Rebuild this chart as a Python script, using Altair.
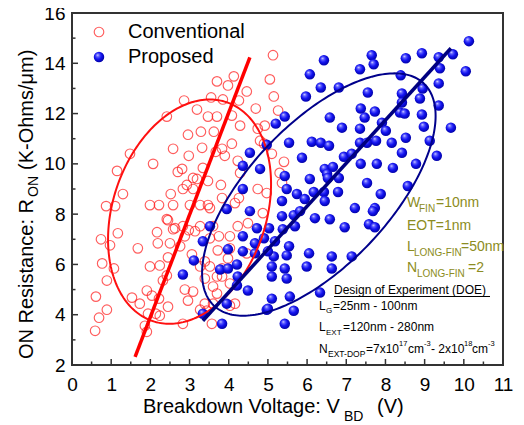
import altair as alt
import pandas as pd
import numpy as np

# ---------------- data ----------------
conv_x = [4.13, 3.70, 3.98, 4.46, 2.86, 3.55, 3.85, 4.26, 3.19, 2.42, 3.47, 3.70, 4.08, 4.69, 4.29,
          3.29, 2.96, 3.62, 4.08, 2.58, 3.32, 3.67, 1.48, 2.07, 2.98, 3.90, 4.23, 3.34, 2.70, 1.15,
          3.19, 4.29, 2.93, 3.47, 3.80, 1.30, 2.52, 3.83, 4.26, 0.87, 1.10, 1.99, 2.22, 2.58, 3.01,
          3.27, 3.47, 4.16, 0.74, 1.17, 0.97, 0.77, 1.07, 0.89, 0.61, 0.89, 0.69, 0.59, 1.68, 1.53,
          1.73, 1.86, 1.91, 1.94, 1.91, 2.04, 2.14, 2.24, 1.99, 2.24, 2.32, 2.42, 2.45, 2.22, 2.17,
          2.19, 2.45, 2.50, 2.63, 2.83, 2.76, 2.88, 2.83, 2.96, 3.09, 2.98, 3.27, 3.60, 3.75, 4.03,
          3.57, 3.44, 3.60, 3.70, 3.39, 3.52, 3.27, 3.83, 4.03, 4.23, 4.49, 4.03, 4.46, 3.72, 2.42,
          2.58, 2.45, 2.83, 3.09, 3.52, 4.74, 4.87, 3.14, 3.52, 3.06, 3.39, 3.83, 3.98, 3.70, 4.03,
          2.88, 3.60, 3.39, 4.16, 3.27, 5.13, 5.05, 5.15, 5.26, 4.92, 4.90, 5.10, 5.41, 5.30, 5.36,
          4.97, 4.74, 4.80, 3.83, 2.81, 3.09]
conv_y = [13.48, 13.28, 13.12, 12.88, 12.52, 12.64, 12.56, 12.52, 12.16, 11.88, 11.88, 11.88, 11.92, 12.20, 11.52,
          11.28, 11.16, 11.28, 10.80, 10.60, 10.64, 10.48, 10.40, 10.00, 10.32, 10.32, 10.12, 9.84, 9.68, 9.72,
          9.40, 9.64, 9.16, 9.32, 9.16, 8.80, 8.80, 8.64, 8.64, 8.32, 8.32, 8.36, 8.36, 8.36, 8.36,
          8.36, 8.36, 8.44, 7.00, 7.24, 6.76, 6.04, 5.84, 5.36, 4.72, 4.20, 3.88, 3.36, 6.64, 4.68,
          4.44, 3.56, 3.32, 4.04, 4.96, 4.76, 4.04, 3.96, 5.92, 5.96, 5.36, 5.56, 4.32, 4.64, 7.28,
          6.84, 7.76, 6.84, 7.44, 7.52, 6.72, 7.12, 3.64, 4.56, 4.92, 7.36, 7.52, 7.52, 7.12, 7.12,
          3.64, 4.16, 4.44, 4.84, 5.44, 5.92, 5.92, 5.52, 4.36, 7.52, 7.64, 6.64, 6.44, 6.56, 7.80,
          7.40, 6.28, 9.00, 9.00, 8.24, 9.00, 8.04, 7.32, 7.04, 6.40, 6.12, 5.84, 6.24, 5.52, 5.24,
          5.00, 5.12, 4.44, 4.44, 4.20, 14.32, 13.36, 12.68, 12.12, 11.52, 10.80, 10.40, 10.08, 9.64, 9.24,
          8.84, 11.40, 10.92, 10.60, 9.80, 9.44]

prop_x = [10.13, 7.65, 7.70, 6.43, 8.52, 8.93, 9.36, 9.72, 9.39, 10.05, 7.35, 6.07, 8.39, 6.35, 6.81,
          5.97, 7.55, 8.42, 8.95, 9.36, 8.88, 9.36, 7.37, 7.47, 7.73, 8.37, 8.49, 8.42, 8.93, 8.98,
          6.58, 5.43, 5.20, 6.89, 7.35, 7.91, 8.01, 9.67, 5.54, 6.12, 6.35, 6.56, 7.35, 7.53, 7.76,
          8.16, 8.52, 9.13, 8.42, 9.31, 5.87, 6.94, 7.14, 7.37, 7.78, 8.19, 8.78, 5.43, 6.45, 6.66,
          6.81, 6.51, 6.07, 7.53, 8.57, 5.48, 5.74, 5.94, 6.17, 6.43, 6.45, 6.79, 7.88, 5.36, 7.22,
          7.73, 5.66, 6.20, 6.58, 6.96, 7.58, 7.73, 4.90, 5.18, 5.69, 5.54, 5.48, 6.05, 6.63, 7.14,
          5.15, 5.10, 5.43, 5.99, 6.63, 5.10, 5.48, 6.33, 5.10, 5.56, 4.97, 5.66, 5.43, 5.36, 5.82,
          5.38, 7.68, 4.36, 3.95, 4.54, 3.52, 4.72, 5.03, 3.34, 4.36, 3.98, 4.36, 4.67, 4.67, 5.00,
          3.11, 2.83, 3.78, 3.98, 4.21, 4.23, 4.21, 4.49, 3.95, 5.00, 3.34, 3.83, 4.97, 4.54, 4.36,
          4.80, 6.53]
prop_y = [14.88, 14.32, 13.96, 14.12, 14.20, 14.40, 14.24, 14.36, 13.80, 13.68, 13.76, 13.56, 13.52, 13.04, 13.04,
          12.68, 12.84, 12.80, 13.00, 13.20, 12.60, 12.32, 12.20, 11.84, 12.08, 12.04, 12.00, 12.44, 11.96, 11.48,
          11.84, 11.88, 11.60, 11.44, 11.40, 11.64, 11.32, 11.44, 10.84, 10.88, 10.84, 10.72, 10.84, 10.84, 10.92,
          10.84, 11.04, 10.92, 10.44, 10.32, 10.24, 10.28, 10.40, 10.00, 10.00, 9.84, 10.00, 9.52, 9.80, 9.88,
          9.44, 9.60, 9.40, 9.24, 9.12, 9.00, 8.80, 8.60, 8.88, 8.88, 8.52, 8.88, 8.80, 8.52, 8.24,
          8.24, 7.96, 7.84, 7.80, 7.48, 7.60, 7.48, 7.04, 6.92, 7.52, 6.72, 6.36, 6.44, 6.32, 6.32,
          6.32, 5.92, 5.84, 5.92, 5.84, 5.52, 5.44, 4.88, 4.64, 4.72, 4.20, 4.16, 3.64, 7.92, 8.12,
          7.40, 8.12, 9.00, 8.20, 8.12, 7.52, 7.44, 7.44, 6.92, 7.12, 6.60, 6.52, 6.44, 6.84, 6.52,
          6.16, 5.60, 5.80, 5.84, 6.00, 5.52, 5.16, 4.96, 4.44, 4.24, 4.04, 3.64, 10.76, 10.44, 9.92,
          9.80, 9.44]

# trend lines (end points)
red_line_x = [1.61, 4.54]
red_line_y = [2.32, 14.24]
blue_line_x = [3.34, 9.67]
blue_line_y = [3.76, 14.60]

# confidence ellipses: centre x, centre y, x half-extent, y half-extent, phase
red_ellipse = [3.00, 8.10, 2.08, 4.46, 1.32]
blue_ellipse = [6.30, 8.78, 2.98, 4.82, 0.865]

x_ticks = list(range(0, 12))
x_minor = [i + 0.5 for i in range(0, 11)]
y_ticks = [2, 4, 6, 8, 10, 12, 14, 16]
y_minor = [3, 5, 7, 9, 11, 13, 15]

FONT = "Liberation Sans"
W, H = 431, 352
OLIVE = "#8c8c22"


def ellipse_df(p, name):
    cx, cy, a, b, ph = p
    t = np.linspace(0, 2 * np.pi, 241)
    return pd.DataFrame({"x": cx + a * np.cos(t), "y": cy + b * np.cos(t + ph), "o": np.arange(len(t)), "s": name})


xs = alt.Scale(domain=[0, 11], nice=False, zero=False)
ys = alt.Scale(domain=[2, 16], nice=False, zero=False)

xax = alt.Axis(values=x_ticks, labelFontSize=19, labelFont=FONT, labelColor="black", ticks=False,
               domain=False, grid=False, title=None, labelPadding=10, labelOverlap=False, labelFlush=False,
               tickCount=12)
yax = alt.Axis(values=y_ticks, labelFontSize=19, labelFont=FONT, labelColor="black", ticks=False,
               domain=False, grid=False, title=None, labelPadding=7, labelOverlap=False, labelFlush=False)


def X(f):
    return alt.X(f, scale=xs, axis=xax)


def Y(f):
    return alt.Y(f, scale=ys, axis=yax)


conv = pd.DataFrame({"x": conv_x, "y": conv_y})
prop = pd.DataFrame({"x": prop_x, "y": prop_y})

sphere = alt.RadialGradient(
    gradient="radial",
    stops=[alt.GradientStop(color="#ffffff", offset=0),
           alt.GradientStop(color="#6a6aff", offset=0.2),
           alt.GradientStop(color="#1212f2", offset=0.55),
           alt.GradientStop(color="#00009a", offset=1)],
    x1=0.36, y1=0.3, r1=0, x2=0.45, y2=0.45, r2=0.6)

red_pts = alt.Chart(conv).mark_point(shape="circle", filled=False, color="#ff1a1a", size=92,
                                     strokeWidth=1.15).encode(x=X("x:Q"), y=Y("y:Q"))
blue_pts = alt.Chart(prop).mark_point(shape="circle", filled=True, fill=sphere, size=110, opacity=1,
                                      strokeWidth=0).encode(x=X("x:Q"), y=Y("y:Q"))

red_ell = alt.Chart(ellipse_df(red_ellipse, "r")).mark_line(color="#ff1010", strokeWidth=2).encode(
    x=X("x:Q"), y=Y("y:Q"), order="o:Q")
blue_ell = alt.Chart(ellipse_df(blue_ellipse, "b")).mark_line(color="#00008b", strokeWidth=2).encode(
    x=X("x:Q"), y=Y("y:Q"), order="o:Q")

red_fit = alt.Chart(pd.DataFrame({"x": red_line_x, "y": red_line_y})).mark_line(
    color="#ff0000", strokeWidth=3.5).encode(x=X("x:Q"), y=Y("y:Q"))
blue_fit = alt.Chart(pd.DataFrame({"x": blue_line_x, "y": blue_line_y})).mark_line(
    color="#000080", strokeWidth=3.5).encode(x=X("x:Q"), y=Y("y:Q"))

# inner ticks
xt_major = alt.Chart(pd.DataFrame({"v": x_ticks})).mark_rule(color="#333", strokeWidth=1.5).encode(
    x=X("v:Q"), y=alt.value(H), y2=alt.value(H - 6))
xt_minor = alt.Chart(pd.DataFrame({"v": x_minor})).mark_rule(color="#333", strokeWidth=1.5).encode(
    x=X("v:Q"), y=alt.value(H), y2=alt.value(H - 3.5))
yt_major = alt.Chart(pd.DataFrame({"v": y_ticks})).mark_rule(color="#333", strokeWidth=1.5).encode(
    y=Y("v:Q"), x=alt.value(0), x2=alt.value(6))
yt_minor = alt.Chart(pd.DataFrame({"v": y_minor})).mark_rule(color="#333", strokeWidth=1.5).encode(
    y=Y("v:Q"), x=alt.value(0), x2=alt.value(3.5))


def txt(s, x, y, size, color="black", angle=0):
    return alt.Chart(pd.DataFrame({"t": [s]})).mark_text(
        align="left", baseline="alphabetic", fontSize=size, font=FONT, color=color, angle=angle
    ).encode(x=alt.value(x), y=alt.value(y), text="t:N")


# px -> plot coords: x-72, y-13
DS = 12
texts = [
    # legend
    txt("Conventional", 56, 25, 20),
    txt("Proposed", 56, 50, 20),
    # device parameters
    txt("W", 335, 194, 14, OLIVE), txt("FIN", 347, 199, 10, OLIVE), txt("=10nm", 364, 194, 14, OLIVE),
    txt("EOT=1nm", 335, 217, 14, OLIVE),
    txt("L", 335, 238, 14, OLIVE), txt("LONG-FIN", 342, 243, 10, OLIVE), txt("=50nm", 389, 238, 14, OLIVE),
    txt("N", 335, 259, 14, OLIVE), txt("LONG-FIN", 345, 264, 10, OLIVE), txt("=2", 396, 259, 14, OLIVE),
    # DOE
    txt("Design of Experiment (DOE)", 262, 281, DS),
    txt("L", 247, 297, DS), txt("G", 254, 300, 8), txt("=25nm - 100nm", 261, 297, DS),
    txt("L", 247, 318, DS), txt("EXT", 254, 322, 8), txt("=120nm - 280nm", 271, 318, DS),
    txt("N", 247, 340, DS), txt("EXT-DOP", 256, 344, 8.5), txt("=7x10", 294, 340, DS),
    txt("17", 327, 333, 7.5), txt("cm", 336, 340, DS), txt("-3", 352, 333, 7.5),
    txt("- 2x10", 359, 340, DS), txt("18", 392, 333, 7.5), txt("cm", 400, 340, DS), txt("-3", 416, 333, 7.5),
    # axis titles
    txt("Breakdown Voltage: V", 71, 400, 20), txt("BD", 272, 408, 14), txt("(V)", 305, 400, 20),
    txt("ON Resistance: R", -39, 346, 20, angle=270), txt("ON", -34, 184, 14, angle=270),
    txt("(K-Ohms/\u03bcm)", -39, 157, 20, angle=270),
]

underline = alt.Chart(pd.DataFrame({"a": [0]})).mark_rule(color="black", strokeWidth=1).encode(
    x=alt.value(262), x2=alt.value(418), y=alt.value(283.5))

leg_red = alt.Chart(pd.DataFrame({"a": [0]})).mark_point(shape="circle", filled=False, color="#ff1a1a",
                                                         size=92, strokeWidth=1.15).encode(
    x=alt.value(27), y=alt.value(19))
leg_blue = alt.Chart(pd.DataFrame({"a": [0]})).mark_point(shape="circle", filled=True, fill=sphere,
                                                          size=110, opacity=1, strokeWidth=0).encode(
    x=alt.value(27), y=alt.value(44))

chart = alt.layer(
    red_pts, blue_pts, red_ell, blue_ell, red_fit, blue_fit,
    xt_major, xt_minor, yt_major, yt_minor, underline, leg_red, leg_blue, *texts
).properties(
    width=W, height=H,
    padding={"left": 64, "top": 5, "right": 13, "bottom": 58},
    autosize=alt.AutoSizeParams(type="none"),
    background="white",
).configure_view(stroke="#333333", strokeWidth=2)

chart.save("out.html", embed_options={"renderer": "svg", "actions": False})
